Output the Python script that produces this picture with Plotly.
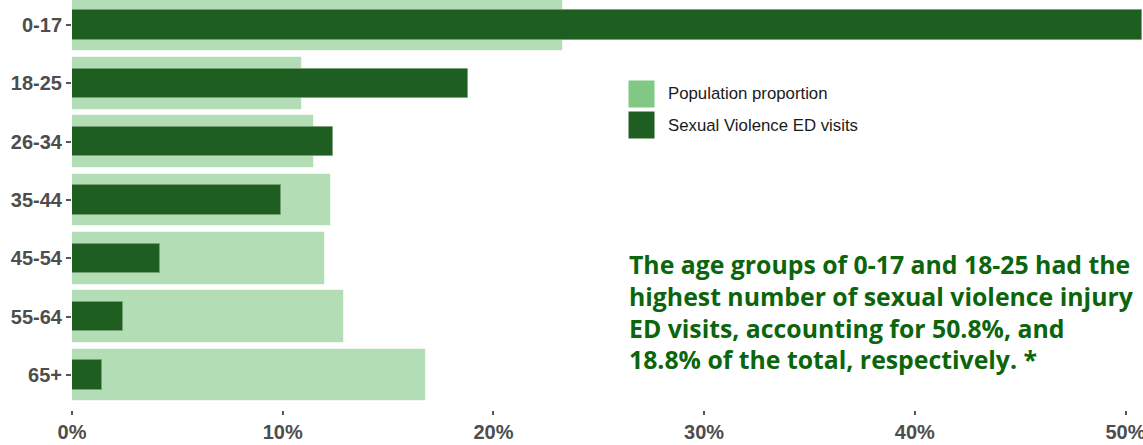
import plotly.graph_objects as go

categories = ["0-17", "18-25", "26-34", "35-44", "45-54", "55-64", "65+"]
population_pct = [23.3, 10.9, 11.5, 12.3, 12.0, 12.9, 16.8]
sv_visits_pct = [50.8, 18.8, 12.4, 9.9, 4.2, 2.4, 1.4]
x_ticks = [0, 10, 20, 30, 40, 50]
x_tick_labels = ["0%", "10%", "20%", "30%", "40%", "50%"]
legend_labels = ["Population proportion", "Sexual Violence ED visits"]
note_lines = [
    "The age groups of 0-17 and 18-25 had the",
    "highest number of sexual violence injury",
    "ED visits, accounting for 50.8%, and",
    "18.8% of the total, respectively. *",
]

LIGHT = "#80c883"
DARK = "#1e5e20"
W, H = 1143, 445
L, R, T, B = 72, 0, 0, 35
PH = H - T - B

fig = go.Figure()
fig.add_trace(go.Bar(
    y=categories, x=population_pct, orientation="h", width=0.9,
    marker=dict(color="rgba(128,200,131,0.6)", line=dict(color="rgba(255,255,255,0.6)", width=1)),
    name=legend_labels[0], showlegend=False,
))
fig.add_trace(go.Bar(
    y=categories, x=sv_visits_pct, orientation="h", width=0.5,
    marker=dict(color=DARK, line=dict(color="rgba(120,160,120,0.7)", width=1)),
    name=legend_labels[1], showlegend=False,
))

def py(p):
    return (T + PH - p) / PH

def px(p):
    return (p - L) / (W - L - R)

# custom legend
for (y0, y1), col, lab in zip([(80, 108), (111, 139)], [LIGHT, DARK], legend_labels):
    fig.add_shape(type="rect", xref="paper", yref="paper",
                  x0=px(628), x1=px(655), y0=py(y1), y1=py(y0),
                  fillcolor=col, line=dict(color="white", width=1))
    fig.add_annotation(xref="paper", yref="paper", x=px(666), y=py((y0 + y1) / 2),
                       text=lab, showarrow=False, xanchor="left", yanchor="middle",
                       font=dict(family="Liberation Sans, Arial", size=16.8, color="#1a1a1a"))

for i, (line, yc) in enumerate(zip(note_lines, [264, 296, 328, 359])):
    fig.add_annotation(xref="paper", yref="paper", x=px(627), y=py(yc),
                       text=line, showarrow=False, xanchor="left", yanchor="middle",
                       font=dict(family="Open Sans", size=24.8, color="#0b650b", weight="bold"))

tickfont = dict(family="Liberation Sans, Arial", size=20, color="#4d4d4d", weight="bold")
fig.update_layout(
    width=W, height=H, barmode="overlay", bargap=0,
    margin=dict(l=L, r=R, t=T, b=B, pad=0),
    plot_bgcolor="white", paper_bgcolor="white",
    xaxis=dict(range=[0, 50.83], tickvals=x_ticks, ticktext=x_tick_labels,
               showgrid=False, zeroline=False, showline=False, automargin=False,
               ticklabeloverflow="allow",
               ticks="outside", ticklen=4, tickcolor="#555", tickwidth=1.5,
               tickfont=tickfont),
    yaxis=dict(categoryorder="array", categoryarray=categories,
               range=[6.6, -0.4286], showgrid=False, zeroline=False, showline=False,
               automargin=False,
               ticks="outside", ticklen=5, tickcolor="#555", tickwidth=1.5,
               tickfont=tickfont),
)

fig.write_html("out.html", config={"displayModeBar": False},
               post_script="document.body.style.margin='0';document.body.style.overflow='hidden';")
